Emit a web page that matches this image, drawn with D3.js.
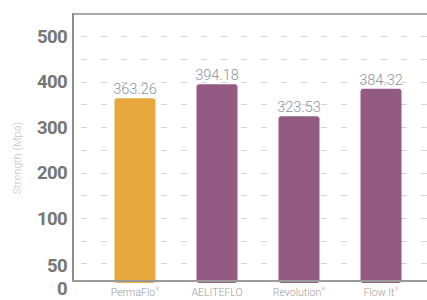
<!DOCTYPE html>
<html><head><meta charset="utf-8">
<script src="https://cdn.jsdelivr.net/npm/d3@7"></script>
<style>html,body{margin:0;padding:0;background:#fff;}svg{display:block;}</style>
</head><body>
<svg id="c" width="427" height="300"></svg>
<script>
const categories = ["PermaFlo", "AELITEFLO", "Revolution", "Flow It"];
const marks = ["®", "", "®", "®"];
const values = [363.26, 394.18, 323.53, 384.32];
const barColors = ["#E7A83D", "#935B81"];
const tickValues = [0, 50, 100, 200, 300, 400, 500];
const gridValues = [50, 75, 100, 150, 200, 250, 300, 350, 400, 450, 500];
const yTitle = "Strength (Mpa)";

(function () {
const svg = d3.select("#c");
const mLeft = 73, mRight = 427, mTop = 14, mBottom = 281;

const y = d3.scaleLinear().domain([0, 50, 100, 500]).range([mBottom, 263, 218, 36]);
const x = d3.scaleBand().domain(categories).range([94, 422]).paddingInner(0.5).paddingOuter(0.25);

// gridlines
svg.append("g").selectAll("line").data(gridValues).join("line")
  .attr("x1", mLeft + 2).attr("x2", mRight)
  .attr("y1", d => Math.round(y(d)) + 0.5).attr("y2", d => Math.round(y(d)) + 0.5)
  .attr("stroke", "#d6d6d6").attr("stroke-width", 1.2)
  .attr("stroke-dasharray", "6,14").attr("stroke-dashoffset", -6);

// bars
svg.append("g").selectAll("rect").data(values).join("rect")
  .attr("x", (d, i) => x(categories[i]))
  .attr("width", x.bandwidth())
  .attr("y", d => y(d))
  .attr("height", d => y(0) - y(d) + 2)
  .attr("rx", 3)
  .attr("fill", (d, i) => i === 0 ? barColors[0] : barColors[1]);

// value labels
svg.append("g").selectAll("text").data(values).join("text")
  .attr("x", (d, i) => x(categories[i]) + x.bandwidth() / 2)
  .attr("y", d => y(d) - 4)
  .attr("text-anchor", "middle")
  .attr("font-family", "Roboto, sans-serif").attr("font-weight", 300)
  .attr("font-size", 14.5).attr("fill", "#8a93a0")
  .text(d => d.toFixed(2));

// frame
svg.append("line").attr("x1", mLeft).attr("x2", mRight).attr("y1", mTop).attr("y2", mTop)
  .attr("stroke", "#a8a8a8").attr("stroke-width", 2);
svg.append("line").attr("x1", mLeft).attr("x2", mLeft).attr("y1", mTop - 1).attr("y2", mBottom + 1)
  .attr("stroke", "#8e8e8e").attr("stroke-width", 2);
svg.append("line").attr("x1", mLeft - 1).attr("x2", mRight).attr("y1", mBottom).attr("y2", mBottom)
  .attr("stroke", "#9a9a9a").attr("stroke-width", 2);

// y tick labels
const yOff = {0: 7, 50: 2};
svg.append("g").selectAll("text").data(tickValues).join("text")
  .attr("x", 67)
  .attr("y", d => y(d) + (yOff[d] || 0))
  .attr("dy", "0.36em")
  .attr("text-anchor", "end")
  .attr("font-family", "Roboto, sans-serif").attr("font-weight", 700)
  .attr("font-size", 18.5).attr("letter-spacing", -0.6).attr("fill", "#767676")
  .text(d => d);

// x labels
const xl = svg.append("g").selectAll("text").data(categories).join("text")
  .attr("x", d => x(d) + x.bandwidth() / 2)
  .attr("y", 296)
  .attr("text-anchor", "middle")
  .attr("font-family", "Roboto, sans-serif").attr("font-weight", 300)
  .attr("font-size", 10.5).attr("fill", "#9a9a9a");
xl.append("tspan").text(d => d);
xl.append("tspan").attr("font-size", 5).attr("dy", -5).text((d, i) => marks[i]);

// y title
svg.append("text")
  .attr("transform", "translate(21,158) rotate(-90)")
  .attr("text-anchor", "middle")
  .attr("font-family", "Roboto, sans-serif").attr("font-weight", 300)
  .attr("font-size", 11).attr("fill", "#c4c4c4")
  .text(yTitle);
})();
</script>
</body></html>
